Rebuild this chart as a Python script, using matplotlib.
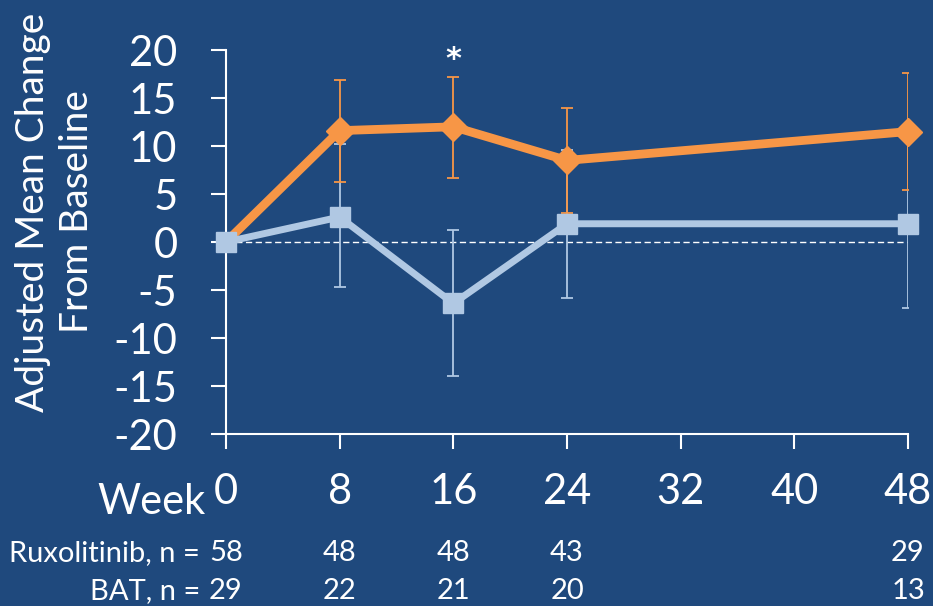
import matplotlib
matplotlib.use("Agg")
import matplotlib.pyplot as plt

weeks = [0, 8, 16, 24, 48]

rux_mean = [0, 11.6, 12.0, 8.5, 11.5]
rux_upper = [0, 16.9, 17.2, 14.0, 17.6]
rux_lower = [0, 6.3, 6.7, 3.0, 5.4]

bat_mean = [0, 2.6, -6.4, 1.9, 1.9]
bat_upper = [0, 10.2, 1.2, 9.6, 10.6]
bat_lower = [0, -4.7, -14.0, -5.8, -6.9]

rux_n = [58, 48, 48, 43, 29]
bat_n = [29, 22, 21, 20, 13]

x_ticks = [0, 8, 16, 24, 32, 40, 48]
y_ticks = [20, 15, 10, 5, 0, -5, -10, -15, -20]

BG = "#1F497D"
ORANGE = "#F79646"
LIGHT = "#B0C8E3"

plt.rcParams["font.family"] = ["Lato", "DejaVu Sans"]

fig = plt.figure(figsize=(9.33, 6.06), dpi=100, facecolor=BG)
ax = fig.add_axes([226 / 933, 1 - 434 / 606, 682 / 933, 384 / 606])
ax.set_facecolor(BG)

ax.axhline(0, color="white", lw=1.0, ls=(0, (4.5, 2.5)), zorder=1)


def yerr(mean, lo, hi):
    return [[m - l for m, l in zip(mean, lo)], [h - m for m, h in zip(mean, hi)]]


ax.errorbar(weeks[1:], bat_mean[1:], yerr=[e[1:] for e in yerr(bat_mean, bat_lower, bat_upper)],
            fmt="none", ecolor=LIGHT, elinewidth=1.3, capsize=4.3, capthick=1.3, zorder=2)
ax.errorbar(weeks[1:], rux_mean[1:], yerr=[e[1:] for e in yerr(rux_mean, rux_lower, rux_upper)],
            fmt="none", ecolor=ORANGE, elinewidth=1.3, capsize=4.3, capthick=1.3, zorder=3)

# baseline point is shared, so the square sits on top there
ax.plot(weeks, rux_mean, color=ORANGE, lw=6.3, marker="D", ms=14, mec=ORANGE,
        markevery=list(range(1, len(weeks))), solid_joinstyle="miter", clip_on=False, zorder=4)
ax.plot(weeks, bat_mean, color=LIGHT, lw=5, marker="s", ms=14.5, mec=LIGHT,
        clip_on=False, zorder=5)

# significance marker at week 16
ax.text(16, 19.0, "*", color="white", fontsize=22, fontweight="bold",
        family="DejaVu Sans", ha="center", va="center")

ax.set_xlim(0, 48)
ax.set_ylim(-20, 20)
ax.set_xticks(x_ticks)
ax.set_xticklabels([str(w) for w in x_ticks])
ax.set_yticks(y_ticks)
ax.set_yticklabels([str(v) for v in y_ticks])

for side in ["top", "right"]:
    ax.spines[side].set_visible(False)
for side in ["left", "bottom"]:
    ax.spines[side].set_color("white")
    ax.spines[side].set_linewidth(1.5)

ax.tick_params(axis="y", colors="white", labelsize=30, length=11, width=1.5, pad=24)
ax.tick_params(axis="x", colors="white", labelsize=30, length=11, width=1.5, pad=17)

fig.text(55 / 933, 1 - 212 / 606, "Adjusted Mean Change\nFrom Baseline", color="white",
         fontsize=28, rotation=90, linespacing=1.3, ha="center", va="center", multialignment="center")

# "Week" label and patient counts below the axis
ax.text(-1.4, -27.1, "Week", color="white", fontsize=30, ha="right", va="center")
trans = ax.get_xaxis_transform()
for row_y, label, counts in [(-0.31, "Ruxolitinib, n =", rux_n), (-0.41, "BAT, n =", bat_n)]:
    ax.text(-1.83, row_y, label, transform=trans, color="white", fontsize=21, ha="right", va="center")
    for w, n in zip(weeks, counts):
        ax.text(w, row_y, str(n), transform=trans, color="white", fontsize=21, ha="center", va="center")

fig.savefig("out.png", dpi=100, facecolor=BG)
